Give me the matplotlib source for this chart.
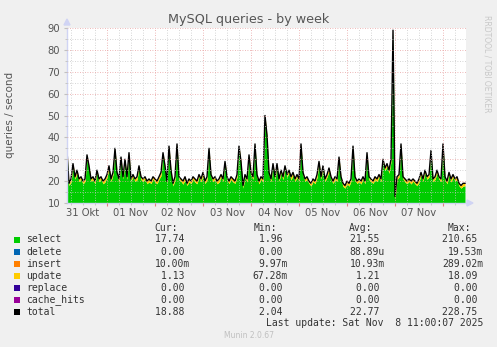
import numpy as np
import matplotlib
matplotlib.use('Agg')
import matplotlib.pyplot as plt
from matplotlib.patches import Rectangle

# --- data (hourly samples) ---
start_hour = 4  # first sample: 31 Okt 04:00
day_labels = ['31 Okt', '01 Nov', '02 Nov', '03 Nov', '04 Nov', '05 Nov', '06 Nov', '07 Nov']

total = [
    34, 19, 21, 28, 22, 25, 21, 22, 20, 21, 32, 27, 21, 22, 20, 25, 21, 22, 20, 21,
    23, 27, 21, 24, 35, 24, 21, 31, 22, 30, 22, 33, 21, 23, 21, 22, 27, 22, 21, 22,
    20, 21, 20, 22, 21, 20, 22, 24, 33, 27, 20, 36, 25, 19, 22, 37, 22, 21, 20, 22,
    19, 21, 20, 22, 21, 20, 23, 21, 24, 20, 22, 35, 23, 21, 22, 20, 21, 23, 21, 29,
    22, 20, 22, 21, 20, 23, 36, 29, 18, 23, 21, 32, 24, 22, 37, 23, 20, 22, 21, 50,
    41, 24, 21, 28, 22, 28, 21, 25, 22, 27, 23, 25, 22, 24, 21, 23, 21, 37, 24, 21,
    22, 20, 19, 21, 20, 23, 29, 22, 27, 21, 23, 26, 22, 20, 22, 21, 31, 22, 19, 18,
    20, 19, 21, 36, 22, 20, 21, 20, 22, 20, 33, 22, 21, 20, 22, 21, 23, 21, 30, 26,
    28, 25, 30, 89, 13, 22, 23, 37, 22, 21, 20, 21, 20, 21, 20, 19, 21, 24, 21, 25,
    22, 23, 34, 21, 22, 25, 22, 21, 37, 22, 20, 24, 21, 23, 21, 22, 19, 18, 19, 19,
]
update = [
    1.2, 1.0, 1.3, 1.5, 1.1, 1.4, 1.2, 1.0, 1.3, 1.1, 1.6, 1.2, 1.0, 1.4, 1.2, 1.1, 1.3, 1.0, 1.2, 1.4,
    1.1, 1.5, 1.2, 1.0, 1.3, 1.2, 1.4, 1.1, 1.0, 1.6, 1.2, 1.3, 1.1, 1.0, 1.2, 1.4, 1.1, 1.3, 1.2, 1.0,
    1.2, 1.3, 1.1, 1.0, 1.4, 1.2, 1.1, 1.5, 1.3, 1.2, 1.0, 1.4, 1.1, 1.2, 1.3, 1.0, 1.2, 1.1, 1.4, 1.2,
    1.0, 1.3, 1.2, 1.1, 1.5, 1.2, 1.0, 1.3, 1.2, 1.1, 1.4, 1.2, 1.0, 1.3, 1.1, 1.2, 1.5, 1.1, 1.0, 1.2,
    1.3, 1.1, 1.2, 1.4, 1.0, 1.2, 1.3, 1.1, 1.2, 1.0, 1.4, 1.3, 1.1, 1.2, 1.0, 1.3, 1.2, 1.1, 1.4, 1.2,
    1.0, 1.3, 1.2, 1.1, 1.2, 1.4, 1.0, 1.2, 1.3, 1.1, 1.2, 1.0, 1.5, 1.2, 1.1, 1.3, 1.0, 1.2, 1.4, 1.1,
    1.2, 1.0, 1.3, 1.1, 1.2, 1.4, 1.1, 1.0, 1.3, 1.2, 1.1, 1.5, 1.2, 1.0, 1.3, 1.1, 1.2, 1.0, 1.4, 1.2,
    1.1, 1.3, 1.0, 1.2, 1.4, 1.1, 1.2, 1.3, 1.0, 1.2, 1.1, 1.4, 1.2, 1.0, 1.3, 1.2, 1.1, 1.2, 1.0, 1.3,
    1.2, 1.4, 1.1, 1.0, 1.2, 1.3, 1.1, 1.2, 1.0, 1.4, 1.2, 1.1, 1.3, 1.0, 1.2, 1.1, 1.4, 1.2, 1.0, 1.3,
    1.2, 1.1, 1.0, 1.3, 1.2, 1.4, 1.1, 1.2, 1.0, 1.3, 1.2, 1.1, 1.4, 1.2, 1.0, 1.3, 1.1, 1.2, 1.3, 1.1,
]
insert_rate = 0.01

# legend table
names = ['select', 'delete', 'insert', 'update', 'replace', 'cache_hits', 'total']
colors = ['#00CC00', '#0066B3', '#FF8000', '#FFCC00', '#330099', '#990099', '#000000']
cur = ['17.74 ', '0.00 ', '10.00m', '1.13 ', '0.00 ', '0.00 ', '18.88 ']
mins = ['1.96 ', '0.00 ', '9.97m', '67.28m', '0.00 ', '0.00 ', '2.04 ']
avgs = ['21.55 ', '88.89u', '10.93m', '1.21 ', '0.00 ', '0.00 ', '22.77 ']
maxs = ['210.65 ', '19.53m', '289.02m', '18.09 ', '0.00 ', '0.00 ', '228.75 ']

total = np.array(total, dtype=float)
update = np.array(update, dtype=float)
t = (start_hour + np.arange(len(total))) / 24.0
insert = np.full(len(total), insert_rate)
select = total - update - insert

W, H = 497, 347
fig = plt.figure(figsize=(W / 100, H / 100), dpi=100, facecolor='#F0F0F0')

def fx(x):
    return x / W

def fy(y):
    return 1 - y / H

ax = fig.add_axes([fx(67), fy(203), (466 - 67) / W, (203 - 28) / H])
ax.set_facecolor('white')

# stacked areas
ax.fill_between(t, 0, select, color='#00CC00', lw=0)
ax.fill_between(t, select, select + insert, color='#FF8000', lw=0)
ax.fill_between(t, select + insert, select + insert + update, color='#FFCC00', lw=0)
ax.plot(t, select + insert + update, color='black', lw=1.0)

# grid: major days / 10 units in red, minor 6h / 5 units in gray
ax.set_xticks(np.arange(1, 9))
ax.set_xticks(np.arange(0.25, 8.5, 0.25), minor=True)
ax.set_yticks(np.arange(10, 91, 10))
ax.set_yticks(np.arange(15, 90, 10), minor=True)
ax.set_xlim(start_hour / 24.0, 8.479)
ax.set_ylim(10, 90)
ax.grid(which='minor', color='#C8C8C8', linestyle=(0, (1, 2)), lw=0.6)
ax.grid(which='major', color='#E8A0A0', linestyle=(0, (1, 2)), lw=0.6)
ax.set_axisbelow(False)
ax.set_xticklabels([])
ax.tick_params(axis='x', which='major', length=2, color='#E08080', direction='out')
ax.tick_params(axis='x', which='minor', length=1.5, color='#C0C0C0', direction='out')
ax.tick_params(axis='y', which='major', length=2, color='#C0C0C0', labelsize=7.2,
               labelcolor='#555555', pad=3)
ax.tick_params(axis='y', which='minor', length=1.5, color='#C0C0C0')

for i, lab in enumerate(day_labels):
    ax.text(i + 0.5, -0.055, lab, transform=ax.get_xaxis_transform(), ha='center', va='center',
            fontsize=7.2, color='#555555')

for s in ['top', 'right']:
    ax.spines[s].set_visible(False)
for s in ['left', 'bottom']:
    ax.spines[s].set_color('#D0D4F4')
    ax.spines[s].set_linewidth(1)

# axis arrows
fig.add_artist(plt.Polygon([(fx(64), fy(25)), (fx(70), fy(25)), (fx(67), fy(19))],
                           closed=True, transform=fig.transFigure, color='#D0D4F4'))
fig.add_artist(plt.Polygon([(fx(467), fy(200)), (fx(467), fy(206)), (fx(473), fy(203))],
                           closed=True, transform=fig.transFigure, color='#D0D4F4'))

fig.text(0.5, fy(19), 'MySQL queries - by week', ha='center', va='center',
         fontsize=9.2, color='#555555')
fig.text(fx(10), fy(115), 'queries / second', rotation=90, ha='center', va='center',
         fontsize=7.5, color='#555555')
fig.text(fx(487), fy(15), 'RRDTOOL / TOBI OETIKER', rotation=270, ha='center', va='top',
         fontsize=5.5, color='#C8C8C8')

# legend table
mono = dict(family='DejaVu Sans Mono', fontsize=7.0, color='#333333')
for x, head in [(178, 'Cur:'), (277, 'Min:'), (372, 'Avg:'), (471, 'Max:')]:
    fig.text(fx(x), fy(228), head, ha='right', va='center', **mono)

for k, name in enumerate(names):
    y = 239.5 + k * 12.05
    fig.add_artist(Rectangle((fx(13.5), fy(y + 3)), 6 / W, 6 / H, transform=fig.transFigure,
                             facecolor=colors[k], edgecolor='none'))
    fig.text(fx(26), fy(y), name, ha='left', va='center', **mono)
    fig.text(fx(190), fy(y), cur[k], ha='right', va='center', **mono)
    fig.text(fx(288), fy(y), mins[k], ha='right', va='center', **mono)
    fig.text(fx(385), fy(y), avgs[k], ha='right', va='center', **mono)
    fig.text(fx(483), fy(y), maxs[k], ha='right', va='center', **mono)

fig.text(fx(483), fy(323.5), 'Last update: Sat Nov  8 11:00:07 2025', ha='right', va='center', **mono)
fig.text(0.5, fy(336), 'Munin 2.0.67', ha='center', va='center', fontsize=5.5, color='#C0C0C0')

fig.savefig('out.png', dpi=100, facecolor=fig.get_facecolor())
